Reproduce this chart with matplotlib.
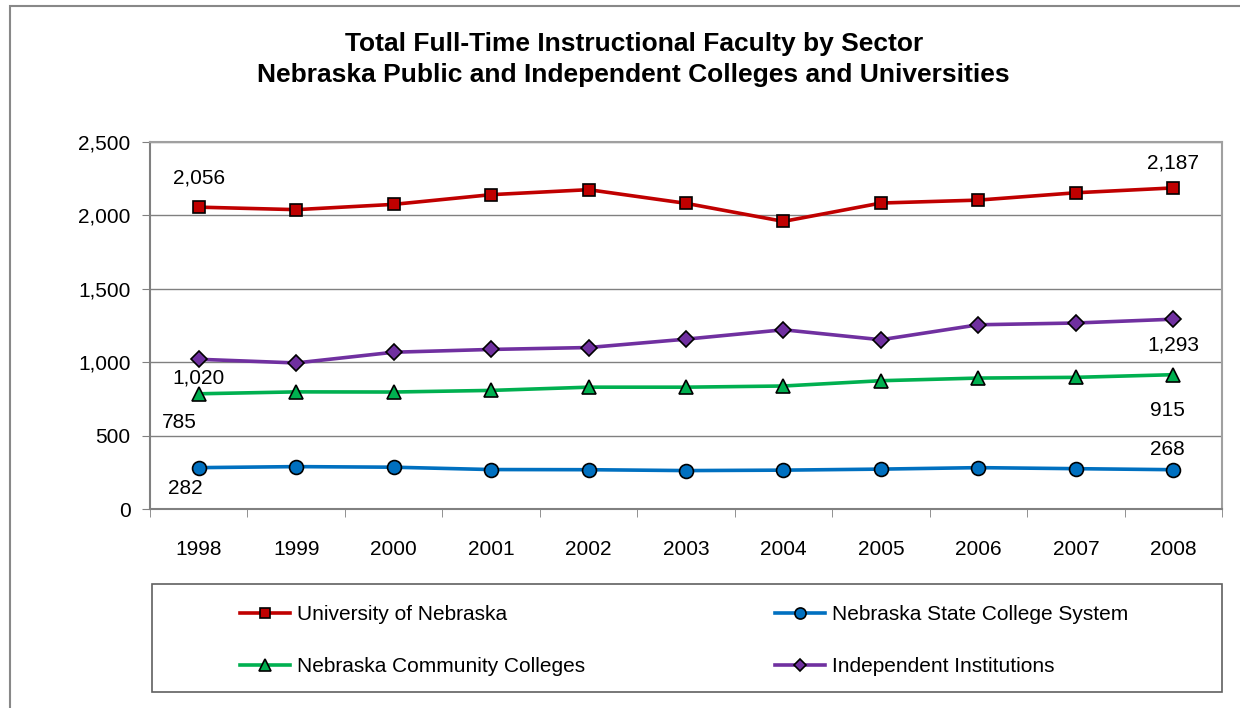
import numpy as np
import matplotlib.pyplot as plt
from matplotlib.patches import Rectangle

years = ['1998', '1999', '2000', '2001', '2002', '2003', '2004', '2005', '2006', '2007', '2008']
univ_nebraska = [2056, 2039, 2075, 2141, 2175, 2082, 1959, 2084, 2104, 2154, 2187]
state_college = [282, 289, 285, 269, 268, 262, 265, 272, 282, 275, 268]
community_colleges = [785, 798, 797, 808, 830, 830, 838, 874, 892, 897, 915]
independent = [1020, 995, 1068, 1087, 1100, 1157, 1221, 1153, 1255, 1267, 1293]


def main():
    plt.rcParams['font.family'] = ['Liberation Sans', 'DejaVu Sans']

    fig = plt.figure(figsize=(12.4, 7.08), dpi=100)
    ax = fig.add_axes([0.121, 0.281, 0.8645, 0.5185])

    # outer chart border
    fig.patches.append(Rectangle((10 / 1240, -0.05), 1.1, 1 - 6 / 708 + 0.05,
                                 transform=fig.transFigure, fill=False,
                                 edgecolor='#888888', linewidth=1.5))
    # legend box
    fig.patches.append(Rectangle((152 / 1240, 16 / 708), 1070 / 1240, 108 / 708,
                                 transform=fig.transFigure, fill=False,
                                 edgecolor='#606060', linewidth=1.2))

    x = np.arange(len(years))
    lw = 2.6
    ms = 8.5
    ax.plot(x, univ_nebraska, color='#c00000', lw=lw, marker='s', ms=ms,
            mfc='#c00000', mec='black', mew=1.2, label='University of Nebraska')
    ax.plot(x, state_college, color='#0070c0', lw=lw, marker='o', ms=ms + 1.5,
            mfc='#0070c0', mec='black', mew=1.2, label='Nebraska State College System')
    ax.plot(x, community_colleges, color='#00b050', lw=lw, marker='^', ms=ms + 1.5,
            mfc='#00b050', mec='black', mew=1.2, label='Nebraska Community Colleges')
    ax.plot(x, independent, color='#7030a0', lw=lw, marker='D', ms=ms - 0.5,
            mfc='#7030a0', mec='black', mew=1.2, label='Independent Institutions')

    fs = 15
    ax.set_xlim(-0.5, len(years) - 0.5)
    ax.set_ylim(0, 2500)
    ax.set_yticks(range(0, 2501, 500))
    ax.set_yticklabels(['{:,}'.format(v) for v in range(0, 2501, 500)], fontsize=fs)
    ax.set_xticks(x)
    ax.set_xticklabels(years, fontsize=fs)
    ax.set_xticks(np.arange(-0.5, len(years), 1), minor=True)
    ax.tick_params(axis='x', which='major', length=0, pad=22)
    ax.tick_params(axis='x', which='minor', length=6, color='#808080')
    ax.tick_params(axis='y', length=6, color='#808080', pad=8)
    ax.yaxis.grid(True, color='#808080', lw=1)
    ax.set_axisbelow(True)
    for side in ['left', 'bottom']:
        ax.spines[side].set_color('#808080')
        ax.spines[side].set_linewidth(1.5)
    for side in ['top', 'right']:
        ax.spines[side].set_color('#a0a0a0')
        ax.spines[side].set_linewidth(1.5)

    # data labels on first and last points
    ax.annotate('{:,}'.format(univ_nebraska[0]), (x[0], univ_nebraska[0]), xytext=(0, 14),
                textcoords='offset points', ha='center', va='bottom', fontsize=fs)
    ax.annotate('{:,}'.format(univ_nebraska[-1]), (x[-1], univ_nebraska[-1]), xytext=(0, 11),
                textcoords='offset points', ha='center', va='bottom', fontsize=fs)
    ax.annotate('{:,}'.format(independent[0]), (x[0], independent[0]), xytext=(0, -7),
                textcoords='offset points', ha='center', va='top', fontsize=fs)
    ax.annotate('{:,}'.format(independent[-1]), (x[-1], independent[-1]), xytext=(0, -12),
                textcoords='offset points', ha='center', va='top', fontsize=fs)
    ax.annotate('{:,}'.format(community_colleges[0]), (x[0], community_colleges[0]), xytext=(-14, -14),
                textcoords='offset points', ha='center', va='top', fontsize=fs)
    ax.annotate('{:,}'.format(community_colleges[-1]), (x[-1], community_colleges[-1]), xytext=(-4, -19),
                textcoords='offset points', ha='center', va='top', fontsize=fs)
    ax.annotate('{:,}'.format(state_college[0]), (x[0], state_college[0]), xytext=(-10, -8),
                textcoords='offset points', ha='center', va='top', fontsize=fs)
    ax.annotate('{:,}'.format(state_college[-1]), (x[-1], state_college[-1]), xytext=(-4, 8),
                textcoords='offset points', ha='center', va='bottom', fontsize=fs)

    fig.text(0.511, 0.916, 'Total Full-Time Instructional Faculty by Sector\n'
             'Nebraska Public and Independent Colleges and Universities',
             ha='center', va='center', fontsize=19, fontweight='bold', linespacing=1.35)

    handles, labels = ax.get_legend_handles_labels()
    order = [0, 2, 1, 3]
    leg = fig.legend([handles[i] for i in order], [labels[i] for i in order],
                     loc='upper left', bbox_to_anchor=(240 / 1240, 1 - 605 / 708),
                     ncol=2, fontsize=fs, frameon=False,
                     borderaxespad=0, borderpad=0, handlelength=2.4, handletextpad=0.34,
                     labelspacing=1.6, columnspacing=9.1, markerscale=0.8)

    plt.savefig('out.png', dpi=100)


if __name__ == '__main__':
    main()
